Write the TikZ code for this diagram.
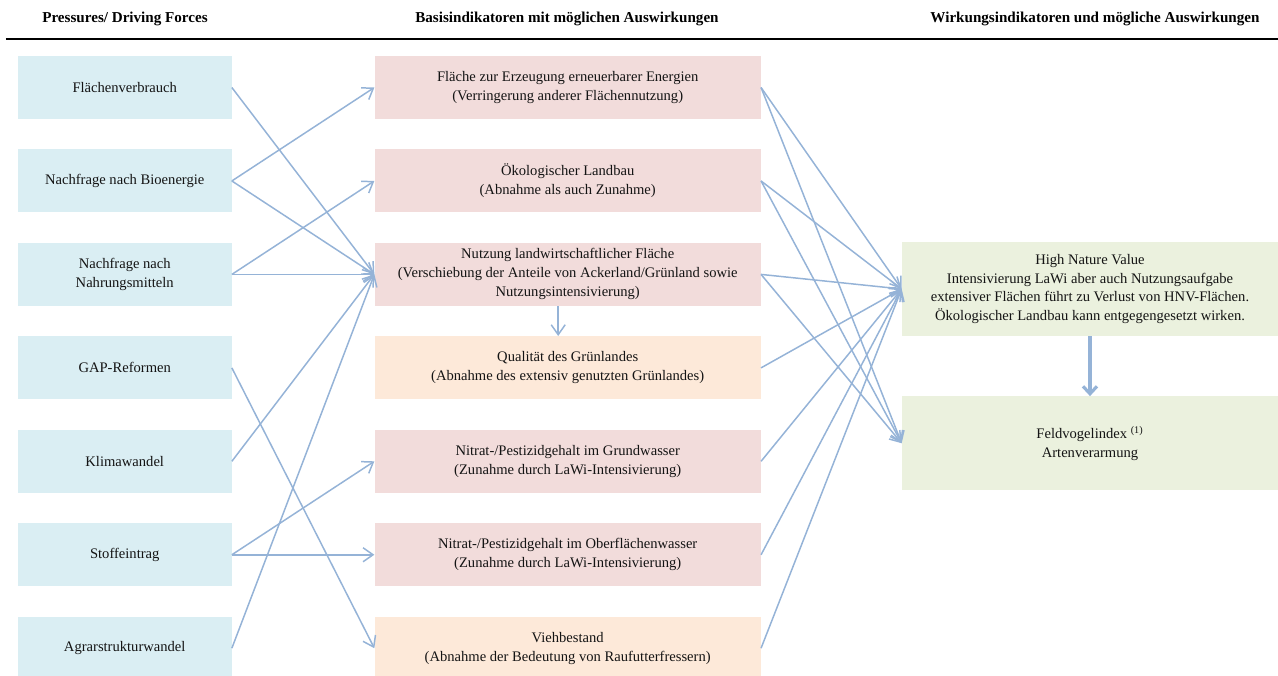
\documentclass[tikz,border=0pt]{standalone}
\usepackage{fontspec}
\setmainfont{Liberation Serif}
\usepackage{tikz}
\usetikzlibrary{arrows.meta, positioning}
\definecolor{txtdark}{RGB}{20,20,20}
\definecolor{pressblue}{RGB}{218,238,243}
\definecolor{basispink}{RGB}{242,220,219}
\definecolor{basisorange}{RGB}{253,233,217}
\definecolor{wirkgreen}{RGB}{235,241,222}
\definecolor{arrblue}{RGB}{149,179,215}
\tikzset{
  pressbox/.style={rectangle, fill=pressblue, minimum width=4.27cm, minimum height=1.26cm,
    inner sep=0pt, align=center, text=txtdark, font=\fontsize{8.3}{10.8}\selectfont},
  basisbox/.style={rectangle, fill=basispink, minimum width=7.72cm, minimum height=1.26cm,
    inner sep=0pt, align=center, text=txtdark, font=\fontsize{8.3}{10.8}\selectfont},
  wirkbox/.style={rectangle, fill=wirkgreen, minimum width=7.52cm, minimum height=1.87cm,
    inner sep=0pt, align=center, text=txtdark, font=\fontsize{8.3}{10.8}\selectfont},
  header/.style={font=\fontsize{8.6}{10}\selectfont\bfseries, text=black, inner sep=0pt},
  arrow/.style={-{Straight Barb[length=2mm, width=2.8mm]}, line width=0.85pt, color=arrblue},
  bigarrow/.style={-{Straight Barb[length=1.5mm, width=2.8mm]}, line width=1.8pt, color=arrblue}
}

\begin{document}
\begin{tikzpicture}[node distance=0.595cm]
\useasboundingbox (0,0) rectangle (25.56,-13.5);

% Headers
\node[header] (hpress) at (2.5,-0.37) {Pressures/ Driving Forces};
\node[header] (hbasis) at (11.34,-0.37) {Basisindikatoren mit möglichen Auswirkungen};
\node[header] (hwirk) at (21.9,-0.37) {Wirkungsindikatoren und mögliche Auswirkungen};
\draw[line width=0.85pt, black] (0.12,-0.78) -- (25.56,-0.78);

% Pressures / driving forces
\node[pressbox] (verbrauch) at (2.495,-1.75) {Flächenverbrauch};
\node[pressbox, below=of verbrauch] (bioen) {Nachfrage nach Bioenergie};
\node[pressbox, below=of bioen] (nahrung) {Nachfrage nach\\Nahrungsmitteln};
\node[pressbox, below=of nahrung] (gap) {GAP-Reformen};
\node[pressbox, below=of gap] (klima) {Klimawandel};
\node[pressbox, below=of klima] (stoff) {Stoffeintrag};
\node[pressbox, below=of stoff] (agrar) {Agrarstrukturwandel};

% Basisindikatoren
\node[basisbox, right=2.85cm of verbrauch] (eeflaeche)
  {Fläche zur Erzeugung erneuerbarer Energien\\(Verringerung anderer Flächennutzung)};
\node[basisbox, right=2.85cm of bioen] (oeko)
  {Ökologischer Landbau\\(Abnahme als auch Zunahme)};
\node[basisbox, right=2.85cm of nahrung] (nutzung)
  {Nutzung landwirtschaftlicher Fläche\\(Verschiebung der Anteile von Ackerland/Grünland sowie\\Nutzungsintensivierung)};
\node[basisbox, fill=basisorange, right=2.85cm of gap] (gruen)
  {Qualität des Grünlandes\\(Abnahme des extensiv genutzten Grünlandes)};
\node[basisbox, right=2.85cm of klima] (grundw)
  {Nitrat-/Pestizidgehalt im Grundwasser\\(Zunahme durch LaWi-Intensivierung)};
\node[basisbox, right=2.85cm of stoff] (oberfw)
  {Nitrat-/Pestizidgehalt im Oberflächenwasser\\(Zunahme durch LaWi-Intensivierung)};
\node[basisbox, fill=basisorange, right=2.85cm of agrar] (vieh)
  {Viehbestand\\(Abnahme der Bedeutung von Raufutterfressern)};

% Wirkungsindikatoren
\node[wirkbox] (hnv) at (21.8,-5.78)
  {High Nature Value\\Intensivierung LaWi aber auch Nutzungsaufgabe\\extensiver Flächen führt zu Verlust von HNV-Flächen.\\Ökologischer Landbau kann entgegengesetzt wirken.};
\node[wirkbox, below=1.2cm of hnv] (feldvogel)
  {Feldvogelindex \textsuperscript{(1)}\\Artenverarmung};

% Pressures -> Basisindikatoren
\draw[arrow] (verbrauch.east) -- (nutzung.west);
\draw[arrow] (bioen.east) -- (eeflaeche.west);
\draw[arrow] (bioen.east) -- (nutzung.west);
\draw[arrow] (nahrung.east) -- (oeko.west);
\draw[arrow] (nahrung.east) -- (nutzung.west);
\draw[arrow] (gap.east) -- (vieh.west);
\draw[arrow] (klima.east) -- (nutzung.west);
\draw[arrow] (stoff.east) -- (grundw.west);
\draw[arrow] (stoff.east) -- (oberfw.west);
\draw[arrow] (agrar.east) -- (nutzung.west);

% Nutzung -> Qualitaet Gruenland
\draw[arrow] ([xshift=-0.19cm]nutzung.south) -- ([xshift=-0.19cm]gruen.north);

% Basisindikatoren -> Wirkungsindikatoren
\foreach \src in {eeflaeche, oeko, nutzung, gruen, grundw, oberfw, vieh}
  \draw[arrow] (\src.east) -- (hnv.west);
\foreach \src in {eeflaeche, oeko, nutzung}
  \draw[arrow] (\src.east) -- (feldvogel.west);

% HNV -> Feldvogelindex
\draw[bigarrow] (hnv.south) -- (feldvogel.north);
\end{tikzpicture}
\end{document}
